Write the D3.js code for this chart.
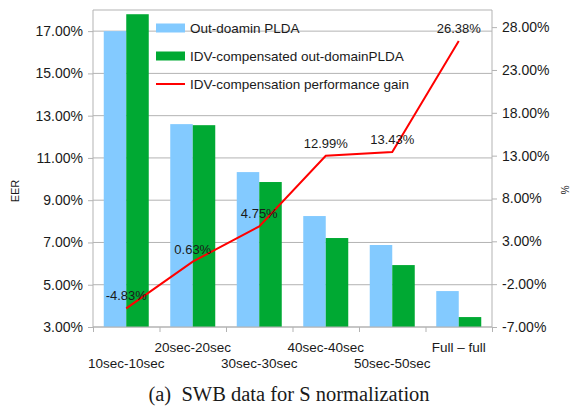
<!DOCTYPE html>
<html>
<head>
<meta charset="utf-8">
<script src="https://cdn.jsdelivr.net/npm/d3@7"></script>
<style>
	body { margin: 0; background: white; }
	text { font-family: 'Liberation Sans', Arial, sans-serif; fill: #1a1a1a; }
	.caption { font-family: 'Liberation Serif', 'Times New Roman', serif; }
</style>
</head>
<body>
<div id="chart"></div>
<script>

// data
var categories = ['10sec-10sec', '20sec-20sec', '30sec-30sec', '40sec-40sec', '50sec-50sec', 'Full \u2013 full'];
var outDomain = [17.0, 12.6, 10.33, 8.25, 6.88, 4.7];
var idvCompensated = [17.8, 12.55, 9.86, 7.21, 5.93, 3.47];
var gain = [-4.83, 0.63, 4.75, 12.99, 13.43, 26.38];
var leftTicks = [3, 5, 7, 9, 11, 13, 15, 17];
var rightTicks = [-7, -2, 3, 8, 13, 18, 23, 28];
var legendLabels = ['Out-doamin PLDA', 'IDV-compensated out-domainPLDA', 'IDV-compensation performance gain'];

var colBlue = '#83caff', colGreen = '#00a933', colRed = '#ff0000', colGrid = '#b3b3b3';

var width = 572, height = 412;
var plotLeft = 93, plotRight = 492, plotTop = 10, plotBottom = 327;

var svg = d3.select('#chart')
			.append('svg')
				.attr('width', width)
				.attr('height', height);

var x = d3.scaleBand().domain(categories).range([plotLeft, plotRight]).padding(0);
var xSub = d3.scaleBand().domain(['a', 'b']).range([0, 45]);
var yLeft = d3.scaleLinear().domain([3, 18]).range([plotBottom, plotTop]);
var yRight = d3.scaleLinear().domain([-7, 30]).range([plotBottom, plotTop]);

function fmt(d) { return d.toFixed(2) + '%'; }

// grid lines from the left axis
svg.append('g')
	.selectAll('line')
	.data(leftTicks)
	.join('line')
		.attr('x1', plotLeft)
		.attr('x2', plotRight)
		.attr('y1', function(d) { return yLeft(d); })
		.attr('y2', function(d) { return yLeft(d); })
		.style('stroke', colGrid)
		.style('stroke-width', 1);

// frame top
svg.append('line')
	.attr('x1', plotLeft).attr('x2', plotRight)
	.attr('y1', plotTop).attr('y2', plotTop)
	.style('stroke', colGrid);

// bars
var groupOffset = (x.bandwidth() - 45) / 2;
svg.append('g')
	.selectAll('rect')
	.data(outDomain)
	.join('rect')
		.attr('x', function(d, i) { return x(categories[i]) + groupOffset + xSub('a'); })
		.attr('y', function(d) { return yLeft(d); })
		.attr('width', xSub.bandwidth())
		.attr('height', function(d) { return plotBottom - yLeft(d); })
		.style('fill', colBlue);

svg.append('g')
	.selectAll('rect')
	.data(idvCompensated)
	.join('rect')
		.attr('x', function(d, i) { return x(categories[i]) + groupOffset + xSub('b'); })
		.attr('y', function(d) { return yLeft(d); })
		.attr('width', xSub.bandwidth())
		.attr('height', function(d) { return plotBottom - yLeft(d); })
		.style('fill', colGreen);

// axes
var leftAxis = d3.axisLeft(yLeft).tickValues(leftTicks).tickFormat(fmt).tickSize(5).tickPadding(5);
var rightAxis = d3.axisRight(yRight).tickValues(rightTicks).tickFormat(fmt).tickSize(5).tickPadding(5);
var bottomAxis = d3.axisBottom(d3.scaleLinear().domain([0, 6]).range([plotLeft, plotRight]))
					.tickValues(d3.range(7)).tickFormat('').tickSize(5);

function styleAxis(g, fontSize) {
	g.selectAll('.domain').style('stroke', colGrid);
	g.selectAll('.tick line').style('stroke', colGrid);
	g.selectAll('.tick text').style('font-size', fontSize).style('fill', '#1a1a1a')
		.style('font-family', "'Liberation Sans', Arial, sans-serif");
}

svg.append('g').attr('transform', 'translate(' + plotLeft + ',0)').call(leftAxis).call(styleAxis, '14px')
	.select('.domain').attr('d', 'M0,' + plotTop + 'V' + plotBottom);
svg.append('g').attr('transform', 'translate(' + plotRight + ',0)').call(rightAxis).call(styleAxis, '14px')
	.select('.domain').attr('d', 'M0,' + plotTop + 'V' + plotBottom);
svg.append('g').attr('transform', 'translate(0,' + plotBottom + ')').call(bottomAxis).call(styleAxis, '14px')
	.select('.domain').attr('d', 'M' + plotLeft + ',0H' + plotRight);

// staggered category labels
svg.append('g')
	.selectAll('text')
	.data(categories)
	.join('text')
		.attr('x', function(d) { return x(d) + x.bandwidth() / 2; })
		.attr('y', function(d, i) { return i % 2 == 0 ? 368 : 352; })
		.attr('text-anchor', 'middle')
		.style('font-size', '13.5px')
		.text(function(d) { return d; });

// gain line
var line = d3.line()
				.x(function(d, i) { return x(categories[i]) + x.bandwidth() / 2; })
				.y(function(d) { return yRight(d); });

svg.append('path')
	.datum(gain)
	.attr('d', line)
	.style('fill', 'none')
	.style('stroke', colRed)
	.style('stroke-width', 2);

svg.append('g')
	.selectAll('text')
	.data(gain)
	.join('text')
		.attr('x', function(d, i) { return x(categories[i]) + x.bandwidth() / 2; })
		.attr('y', function(d) { return yRight(d) - 8; })
		.attr('text-anchor', 'middle')
		.style('font-size', '13px')
		.text(fmt);

// axis titles
svg.append('text')
	.attr('transform', 'translate(19,191) rotate(-90)')
	.attr('text-anchor', 'middle')
	.style('font-size', '11px')
	.text('EER');

svg.append('text')
	.attr('transform', 'translate(561,190) rotate(90)')
	.attr('text-anchor', 'middle')
	.style('font-size', '10px')
	.text('%');

// legend
var legend = svg.append('g').attr('transform', 'translate(156,0)');
var legendY = [28, 56, 84];

legend.selectAll('rect')
	.data([colBlue, colGreen])
	.join('rect')
		.attr('x', 0)
		.attr('y', function(d, i) { return legendY[i] - 4.5; })
		.attr('width', 29)
		.attr('height', 9)
		.style('fill', function(d) { return d; });

legend.append('line')
	.attr('x1', 0)
	.attr('x2', 29)
	.attr('y1', legendY[2])
	.attr('y2', legendY[2])
	.style('stroke', colRed)
	.style('stroke-width', 2);

legend.selectAll('text')
	.data(legendLabels)
	.join('text')
		.attr('x', 34)
		.attr('y', function(d, i) { return legendY[i] + 5; })
		.style('font-size', '13.5px')
		.text(function(d) { return d; });

// caption
svg.append('text')
	.attr('class', 'caption')
	.attr('x', 289)
	.attr('y', 401)
	.attr('text-anchor', 'middle')
	.style('font-size', '20.5px')
	.style('white-space', 'pre')
	.text('(a)  SWB data for S normalization');

</script>
</body>
</html>
